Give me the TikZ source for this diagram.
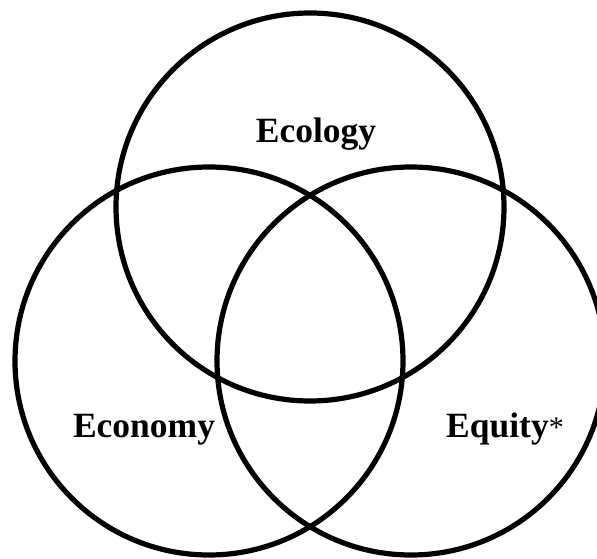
\documentclass[tikz,border=0pt]{standalone}
\usepackage{fontspec}
\setmainfont{Liberation Serif}
\begin{document}
\begin{tikzpicture}[x=1pt,y=1pt,
  venn/.style={circle,draw=black,line width=5.2pt,minimum size=388pt,inner sep=0pt},
  lbl/.style={font=\bfseries\fontsize{35.5}{35.5}\selectfont,inner sep=0pt,anchor=base}]
\useasboundingbox (0,0) rectangle (597,558);
\clip (0,0) rectangle (597,558);
\node[venn] (ecologyc) at (310,351) {};
\node[venn] (economyc) at (209,197) {};
\node[venn] (equityc) at (411,197) {};
\node[lbl] (ecology) at (316,415) {Ecology};
\node[lbl] (economy) at (144,121) {Economy};
\node[lbl,anchor=base west] (equity) at (446,121) {Equity{\mdseries\fontsize{30}{30}\selectfont *}};
\end{tikzpicture}
\end{document}
